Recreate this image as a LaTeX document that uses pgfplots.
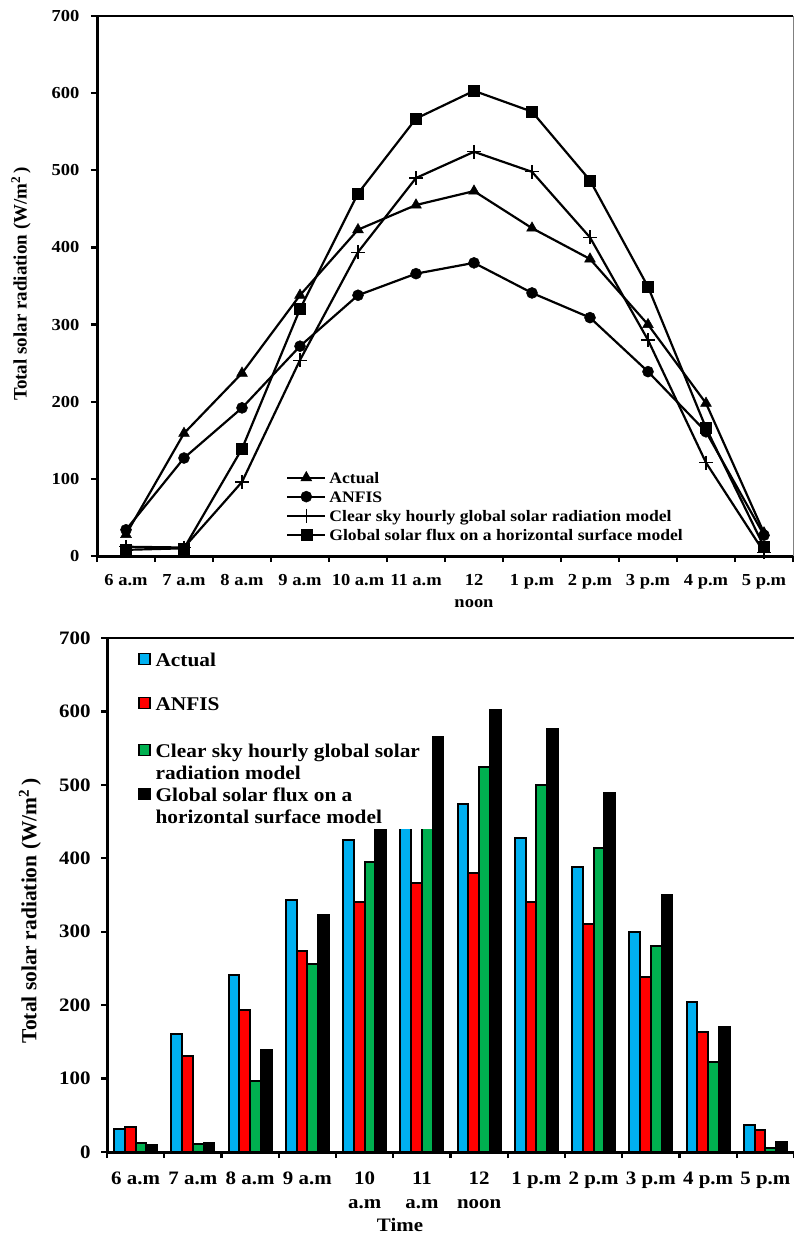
\documentclass[border=0pt]{standalone}
\usepackage{fontspec}
\setmainfont{Liberation Serif}[FakeStretch=1.1]
\newfontfamily\ylabfont{Liberation Serif}
\usepackage{pgfplots}
\pgfplotsset{compat=1.18}
\definecolor{xlblue}{HTML}{00B0F0}
\definecolor{xlred}{HTML}{FF0000}
\definecolor{xlgreen}{HTML}{00B050}
\pgfplotsset{
  mylinelegend/.style={legend image code/.code={\draw[mark repeat=2,mark phase=2,yshift=5.5pt,##1] plot coordinates {(0pt,0pt)(19pt,0pt)(38pt,0pt)};}},
  mybarlegend/.style={legend image code/.code={\draw[##1,line width=1.3pt] (0pt,1.5pt) rectangle (11pt,12.5pt);}},
}
\begin{document}
\begin{tikzpicture}
\useasboundingbox (0pt,0pt) rectangle (794pt,-1237pt);
% ---------------- top: line chart ----------------
\begin{axis}[
  at={(97pt,-556pt)}, anchor=south west,
  scale only axis, width=696pt, height=540pt,
  xmin=-0.5, xmax=11.5, ymin=0, ymax=700,
  axis x line*=bottom, axis y line*=left,
  axis line style={-, line width=3pt},
  xtick={-0.5,0.5,...,11.5},
  x tick label as interval,
  xticklabels={6 a.m,7 a.m,8 a.m,9 a.m,10 a.m,11 a.m,{12\\noon},1 p.m,2 p.m,3 p.m,4 p.m,5 p.m},
  ytick={0,100,...,700},
  tick align=outside, major tick length=6pt,
  tick style={black, line width=2.4pt},
  /pgf/number format/assume math mode=true,
  tick label style={font=\bfseries\fontsize{16.8}{22}\selectfont},
  xticklabel style={align=center, yshift=-8.5pt},
  yticklabel style={xshift=-8pt},
  ylabel={Total solar radiation (W/m\textsuperscript{2}\,)},
  ylabel style={font=\ylabfont\bfseries\fontsize{19}{22}\selectfont, at={(axis description cs:-0.1092,0.504)}, anchor=center},
  clip=false,
  mylinelegend,
  legend style={draw=none, fill=none, at={(axis cs:2.7586,112.5)}, anchor=north west,
    inner sep=0pt, row sep=0pt, column sep=0pt, cells={anchor=base west},
    nodes={inner xsep=3pt, inner ysep=2.25pt, text height=11.5pt, text depth=3pt,
      font=\bfseries\fontsize{16}{19}\selectfont}},
]
\addplot[black, line width=2.2pt, mark=triangle*, mark size=6.2pt, mark options={line width=0.5pt}]
  coordinates {(0,28)(1,159)(2,237)(3,338)(4,423)(5,455)(6,473)(7,425)(8,385)(9,300)(10,198)(11,30)};
\addlegendentry{Actual}
\addplot[black, line width=2.2pt, mark=*, mark size=5.5pt, mark options={line width=0.5pt}]
  coordinates {(0,34)(1,127)(2,192)(3,272)(4,338)(5,366)(6,380)(7,341)(8,309)(9,239)(10,161)(11,27)};
\addlegendentry{ANFIS}
\addplot[black, line width=2.2pt, mark=+, mark size=7pt, mark options={line width=1.1pt}]
  coordinates {(0,12)(1,11)(2,96)(3,254)(4,394)(5,490)(6,524)(7,498)(8,413)(9,280)(10,121)(11,5)};
\addlegendentry{Clear sky hourly global solar radiation model}
\addplot[black, line width=2.2pt, mark=square*, mark size=5.5pt, mark options={line width=0.5pt}]
  coordinates {(0,8)(1,10)(2,139)(3,320)(4,470)(5,567)(6,603)(7,576)(8,487)(9,349)(10,166)(11,12)};
\addlegendentry{Global solar flux on a horizontal surface model}
\draw[line width=2pt] (rel axis cs:0,1) -- (rel axis cs:1,1);
\draw[line width=0.8pt, gray] (rel axis cs:1,0) -- (rel axis cs:1,1);
\end{axis}
% ---------------- bottom: bar chart ----------------
\begin{axis}[
  at={(107pt,-1152pt)}, anchor=south west,
  scale only axis, width=687pt, height=514pt,
  xmin=-0.5, xmax=11.5, ymin=0, ymax=700,
  ybar=0pt, bar width=10.8pt,
  axis x line*=bottom, axis y line*=left,
  axis line style={-, line width=3pt},
  xtick={-0.5,0.5,...,11.5},
  x tick label as interval,
  xticklabels={6 a.m,7 a.m,8 a.m,9 a.m,{10\\a.m},{11\\a.m},{12\\noon},1 p.m,2 p.m,3 p.m,4 p.m,5 p.m},
  ytick={0,100,...,700},
  tick align=outside, major tick length=6pt,
  tick style={black, line width=2.4pt},
  /pgf/number format/assume math mode=true,
  tick label style={font=\bfseries\fontsize{19}{24}\selectfont},
  xticklabel style={align=center, yshift=-10.5pt},
  yticklabel style={xshift=-7pt},
  xlabel={Time},
  xlabel style={font=\bfseries\fontsize{19}{22}\selectfont, at={(axis description cs:0.4265,0)}, anchor=center, yshift=-73pt},
  ylabel={Total solar radiation (W/m\textsuperscript{2}\,)},
  ylabel style={font=\ylabfont\bfseries\fontsize{21.5}{24}\selectfont, at={(axis description cs:-0.1121,0.469)}, anchor=center},
  clip=false,
  legend style={fill=white, draw=none, at={(axis cs:5.18,440)}, anchor=south east,
    inner xsep=7pt, inner ysep=0pt, row sep=0pt, column sep=0pt, cells={anchor=base west},
    nodes={inner xsep=5pt, inner ysep=0pt, text height=, text depth=,
      font=\bfseries\fontsize{19.4}{22.5}\selectfont}},
]
\addplot[fill=xlblue, draw=black, line width=2pt, mybarlegend]
  coordinates {(0,31)(1,161)(2,241)(3,343)(4,425)(5,455)(6,474)(7,428)(8,388)(9,300)(10,204)(11,37)};
\addlegendentry{\raisebox{0pt}[14pt][30pt]{Actual}}
\addplot[fill=xlred, draw=black, line width=2pt, mybarlegend]
  coordinates {(0,34)(1,131)(2,193)(3,274)(4,340)(5,366)(6,380)(7,341)(8,310)(9,239)(10,164)(11,30)};
\addlegendentry{\raisebox{0pt}[14pt][33pt]{ANFIS}}
\addplot[fill=xlgreen, draw=black, line width=2pt, mybarlegend]
  coordinates {(0,12)(1,11)(2,97)(3,256)(4,395)(5,488)(6,524)(7,500)(8,414)(9,280)(10,123)(11,5)};
\addlegendentry{\raisebox{0pt}[14pt][30pt]{\begin{tabular}[t]{@{}l@{}}Clear sky hourly global solar\\ radiation model\end{tabular}}}
\addplot[fill=black, draw=black, line width=2pt, mybarlegend]
  coordinates {(0,10)(1,12)(2,139)(3,323)(4,468)(5,565)(6,602)(7,576)(8,489)(9,350)(10,170)(11,14)};
\addlegendentry{\raisebox{0pt}[14pt][27.5pt]{\begin{tabular}[t]{@{}l@{}}Global solar flux on a\\ horizontal surface model\end{tabular}}}
\draw[line width=2pt] (rel axis cs:0,1) -- (rel axis cs:1,1);
\end{axis}
\end{tikzpicture}
\end{document}
